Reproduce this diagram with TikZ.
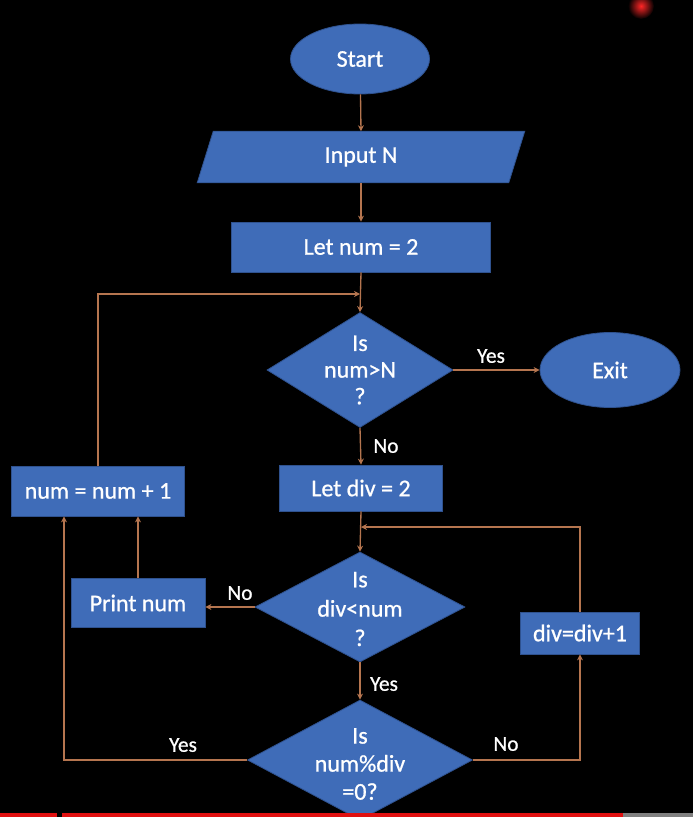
\documentclass[tikz,border=0pt]{standalone}
\usepackage{fontspec}
\setmainfont{Carlito}[FakeBold=0.8]
\usetikzlibrary{shapes.geometric,arrows.meta}
\definecolor{boxblue}{HTML}{3F6CB8}
\definecolor{boxedge}{HTML}{2F528F}
\definecolor{flow}{HTML}{B5754F}
\definecolor{barred}{HTML}{E01010}
\begin{document}
\begin{tikzpicture}[x=0.75pt,y=-0.75pt,
  every node/.style={text=white, font=\fontsize{18}{20}\selectfont},
  blk/.style={rectangle, fill=boxblue, draw=boxedge, line width=0.6pt, inner sep=0pt},
  oval/.style={ellipse, fill=boxblue, draw=boxedge, line width=0.6pt, inner sep=0pt},
  dec/.style={diamond, fill=boxblue, draw=boxedge, line width=0.6pt, inner sep=0pt},
  dectext/.style={align=center, inner sep=0pt},
  lbl/.style={font=\fontsize{16}{18}\selectfont},
  conn/.style={draw=flow, line width=1pt, -{Stealth[length=4.5pt,width=4.5pt]}},
]
\fill[black] (0,0) rectangle (693,817);
\useasboundingbox (0,0) rectangle (693,817);

% nodes
\node[oval, minimum width=104.25pt, minimum height=52.5pt] (start) at (360,59) {Start};
\node[rectangle, inner sep=0pt, minimum width=233.25pt, minimum height=38.25pt] (input) at (361,157) {};
\fill[boxblue, draw=boxedge, line width=0.6pt]
  ([xshift=6pt]input.north west) -- ([xshift=6pt]input.north east) --
  ([xshift=-6pt]input.south east) -- ([xshift=-6pt]input.south west) -- cycle;
\node (inputtext) at (input) {Input N};
\node[blk, minimum width=194.25pt, minimum height=37.5pt] (letnum) at (361,247) {Let num = 2};
\node[dec, minimum width=139.5pt, minimum height=86.25pt] (d1) at (360,370) {};
\node[dectext] (d1t) at (d1) {Is\\num>N\\?};
\node[oval, minimum width=105pt, minimum height=56.25pt] (exit) at (610,370) {Exit};
\node[blk, minimum width=122.25pt, minimum height=34.5pt] (letdiv) at (361,488) {Let div = 2};
\node[blk, minimum width=129.75pt, minimum height=37.5pt] (inc) at (98,491) {num = num + 1};
\node[dec, minimum width=157.5pt, minimum height=82.5pt] (d2) at (360,607) {};
\node[dectext, font=\fontsize{18}{22}\selectfont] (d2t) at (360,609) {Is\\div<num\\?};
\node[blk, minimum width=100.5pt, minimum height=36.75pt] (print) at (138,603) {Print num};
\node[blk, minimum width=89.25pt, minimum height=31.5pt] (divinc) at (580,633) {div=div+1};
\node[dec, minimum width=168.75pt, minimum height=90pt] (d3) at (360,760) {};
\node[dectext, font=\fontsize{18}{21}\selectfont] (d3t) at (360,764) {Is\\num\%div\\=0?};

\coordinate (j1) at (360,294);
\coordinate (j2) at (361,527);

% connectors
\draw[conn] (start) -- (input.north);
\draw[conn] (input.south) -- (letnum.north);
\draw[conn] (letnum.south) -- (d1.north);
\draw[conn] (inc.north) |- (j1);
\draw[conn] (d1.east) -- (exit.west);
\draw[conn] (d1.south) -- (letdiv.north);
\draw[conn] (letdiv.south) -- (d2.north);
\draw[conn] (divinc.north) |- (j2);
\draw[conn] (d2.west) -- (d2.west -| print.east);
\draw[conn] (print.north) -- (print.north |- inc.south);
\draw[conn] (d2.south) -- (d3.north);
\draw[conn] (d3.west) -| ([xshift=-25.5pt]inc.south);
\draw[conn] (d3.east) -| (divinc.south);

% labels
\node[lbl] (l1) at (491,356) {Yes};
\node[lbl] (l2) at (386,446) {No};
\node[lbl] (l3) at (240,593) {No};
\node[lbl] (l4) at (384,684) {Yes};
\node[lbl] (l5) at (183,745) {Yes};
\node[lbl] (l6) at (506,744) {No};

% video overlay marks
\fill[barred] (0,813) rectangle (57,817);
\fill[barred] (62,813) rectangle (623,817);
\fill[gray] (623,813) rectangle (693,817);
\shade[inner color=red!85!white, outer color=black] (641,6) circle (13);
\end{tikzpicture}
\end{document}
